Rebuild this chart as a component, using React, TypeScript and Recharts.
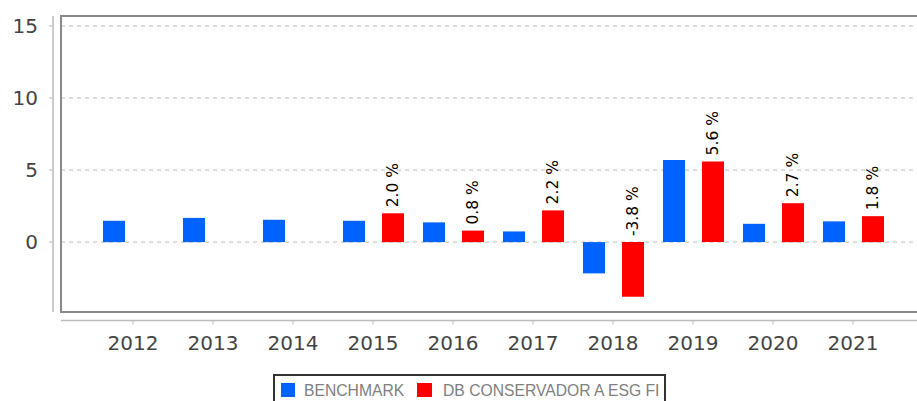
import React from 'react';
import {
  Bar,
  BarChart,
  CartesianGrid,
  LabelList,
  Legend,
  ReferenceArea,
  XAxis,
  YAxis,
} from 'recharts';

const YEARS = ['2012', '2013', '2014', '2015', '2016', '2017', '2018', '2019', '2020', '2021'];
const BENCHMARK = [1.48, 1.68, 1.55, 1.48, 1.37, 0.74, -2.17, 5.69, 1.27, 1.44];
const FUND = [null, null, null, 2.0, 0.8, 2.2, -3.8, 5.6, 2.7, 1.8];
const Y_TICKS = [0, 5, 10, 15];
const Y_DOMAIN: [number, number] = [-4.85, 15.69];

const SERIES = [
  { key: 'benchmark', name: 'BENCHMARK', color: '#0062ff' },
  { key: 'fund', name: 'DB CONSERVADOR A ESG FI', color: '#ff0000' },
];

const data = YEARS.map((year, i) => ({ year, benchmark: BENCHMARK[i], fund: FUND[i] }));

const TICK_STYLE = { fill: '#444', fontSize: 20, fontFamily: 'DejaVu Sans' };

function renderValueLabel(props: any) {
  const { x, y, width, height, value } = props;
  if (value === null || value === undefined) return null;
  const top = Math.min(Number(y), Number(y) + Number(height));
  const cx = Number(x) + Number(width) / 2;
  const ly = top - 6;
  return (
    <text
      x={cx}
      y={ly}
      transform={`rotate(-90 ${cx} ${ly})`}
      textAnchor="start"
      dominantBaseline="central"
      fill="#000"
      fontSize={15.5}
      fontFamily="DejaVu Sans"
    >
      {`${Number(value).toFixed(1)} %`}
    </text>
  );
}

function renderLegend() {
  return (
    <div style={{ height: 28, position: 'relative', overflow: 'visible' }}>
      <div
        style={{
          position: 'absolute',
          left: 273,
          top: 0,
          width: 393,
          height: 34,
          border: '2px solid #333',
          background: '#fff',
          boxSizing: 'border-box',
          fontFamily: 'Liberation Sans',
          fontSize: 15.7,
          lineHeight: '14px',
          color: '#808080',
        }}
      >
        {SERIES.map((s, i) => (
          <React.Fragment key={s.key}>
            <span
              style={{
                position: 'absolute',
                top: 7,
                left: i === 0 ? 6 : 142,
                width: i === 0 ? 14 : 15,
                height: 14,
                background: s.color,
              }}
            />
            <span style={{ position: 'absolute', top: 8, left: i === 0 ? 29 : 168, whiteSpace: 'nowrap' }}>
              {s.name}
            </span>
          </React.Fragment>
        ))}
      </div>
    </div>
  );
}

export default function App() {
  return (
    <div style={{ position: 'fixed', top: 0, left: 0, width: 917, height: 401, overflow: 'hidden', background: '#fff' }}>
      <BarChart
        width={940}
        height={410}
        data={data}
        margin={{ top: 16, right: 15, left: 16, bottom: 8 }}
        barSize={22}
        barGap={17}
      >
        <CartesianGrid vertical={false} stroke="#bbb" strokeDasharray="4 4" />
        <XAxis xAxisId="frame" type="number" hide />
        <ReferenceArea
          xAxisId="frame"
          y1={Y_DOMAIN[0]}
          y2={Y_DOMAIN[1]}
          fill="none"
          stroke="#888"
          strokeWidth={2}
          ifOverflow="visible"
        />
        <XAxis
          dataKey="year"
          height={62}
          padding={{ left: 32, right: 32 }}
          tick={TICK_STYLE}
          tickSize={4}
          tickMargin={20}
          axisLine={{ stroke: '#bbb', strokeWidth: 1.5, transform: 'translate(0,8.5)' }}
          tickLine={{ stroke: '#bbb', transform: 'translate(0,8.5)' }}
        />
        <YAxis
          width={45}
          domain={Y_DOMAIN}
          ticks={Y_TICKS}
          allowDataOverflow
          tick={TICK_STYLE}
          tickSize={4}
          tickMargin={19}
          axisLine={{ stroke: '#bbb', strokeWidth: 1.5, transform: 'translate(-8,0)' }}
          tickLine={{ stroke: '#bbb', transform: 'translate(-8,0)' }}
        />
        <Legend verticalAlign="bottom" wrapperStyle={{ left: 0, width: 940, overflow: 'visible' }} content={renderLegend} />
        {SERIES.map((s) => (
          <Bar key={s.key} dataKey={s.key} name={s.name} fill={s.color} isAnimationActive={false}>
            {s.key === 'fund' && <LabelList dataKey="fund" content={renderValueLabel} />}
          </Bar>
        ))}
      </BarChart>
    </div>
  );
}
